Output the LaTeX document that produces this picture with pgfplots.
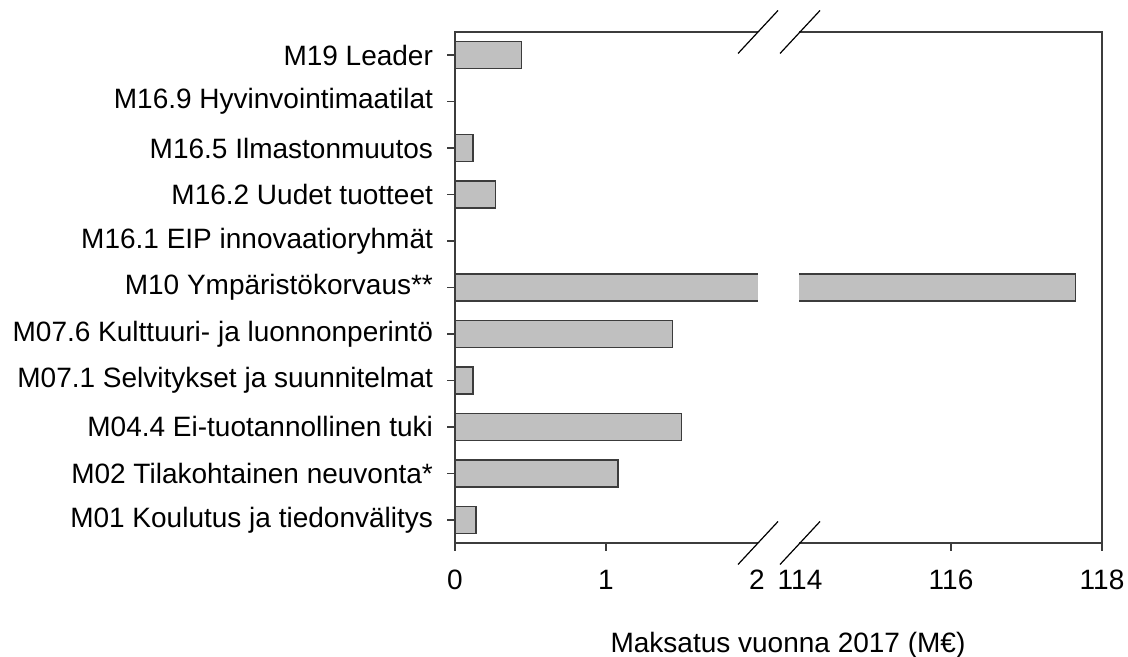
\documentclass[border=0pt]{standalone}
\usepackage{pgfplots}
\usepackage{pgfplotstable}
\pgfplotsset{compat=1.18}
\usepackage{fontspec}
\setmainfont{Liberation Sans}
\definecolor{barfill}{RGB}{192,192,192}
\definecolor{baredge}{RGB}{60,60,60}
\definecolor{axcol}{RGB}{60,60,60}

% y: 0 M01, 1 M02, 2 M04.4, 3 M07.1, 4 M07.6, 5 M10, 6 M16.1, 7 M16.2, 8 M16.5, 9 M16.9, 10 M19
\pgfplotstableread{
y x
0 0.14
1 1.08
2 1.50
3 0.12
4 1.44
5 117.65
7 0.27
8 0.12
10 0.44
}\data

\begin{document}
\begin{tikzpicture}
\useasboundingbox (0,0) rectangle (564pt,328.5pt);
\begin{axis}[name=L, at={(227.5pt,57pt)}, anchor=south west,
  scale only axis, width=323.5pt, height=255.5pt,
  ymin=-0.5, ymax=10.5,
  x coord trafo/.code={\pgfmathparse{#1>50 ? 2.285+(#1-114)*0.5 : #1}},
  xmin=0, xmax=118,
  xbar, bar width=13.5pt,
  tick align=outside, major tick length=4pt,
  axis line style={axcol, line width=0.8pt},
  tick style={axcol, line width=0.8pt},
  ticklabel style={font=\fontsize{14}{16}\selectfont},
  xticklabel style={yshift=-6pt},
  yticklabel style={xshift=-3.5pt},
  /pgf/number format/assume math mode=true,
  xtick pos=lower, ytick pos=lower,
  xtick={0,1,116,118}, xticklabels={0,1,116,118},
  extra x ticks={2,114}, extra x tick labels={2,114},
  extra x tick style={tick style={draw=none}},
  ytick={0,...,10},
  yticklabels={M01 Koulutus ja tiedonvälitys, M02 Tilakohtainen neuvonta*, M04.4 Ei-tuotannollinen tuki, M07.1 Selvitykset ja suunnitelmat, M07.6 Kulttuuri- ja luonnonperintö, M10 Ympäristökorvaus**, M16.1 EIP innovaatioryhmät, M16.2 Uudet tuotteet, M16.5 Ilmastonmuutos, M16.9 Hyvinvointimaatilat, M19 Leader},
]
\addplot[fill=barfill, draw=baredge, line width=0.7pt] table[x=x, y=y] {\data};
\end{axis}
% gap of the broken axis
\fill[white] (378.9pt,55.5pt) rectangle (399.6pt,314pt);
% axis break marks
\foreach \cx in {379pt, 400pt} {
  \foreach \cy in {312.5pt, 57pt} {
    \draw[black, line width=0.6pt] (\cx-10pt,\cy-10.75pt) -- ++(20pt,21.5pt);
  }
}
\node[font=\fontsize{14}{16}\selectfont] at (394pt,6pt) {Maksatus vuonna 2017 (M€)};
\end{tikzpicture}
\end{document}
